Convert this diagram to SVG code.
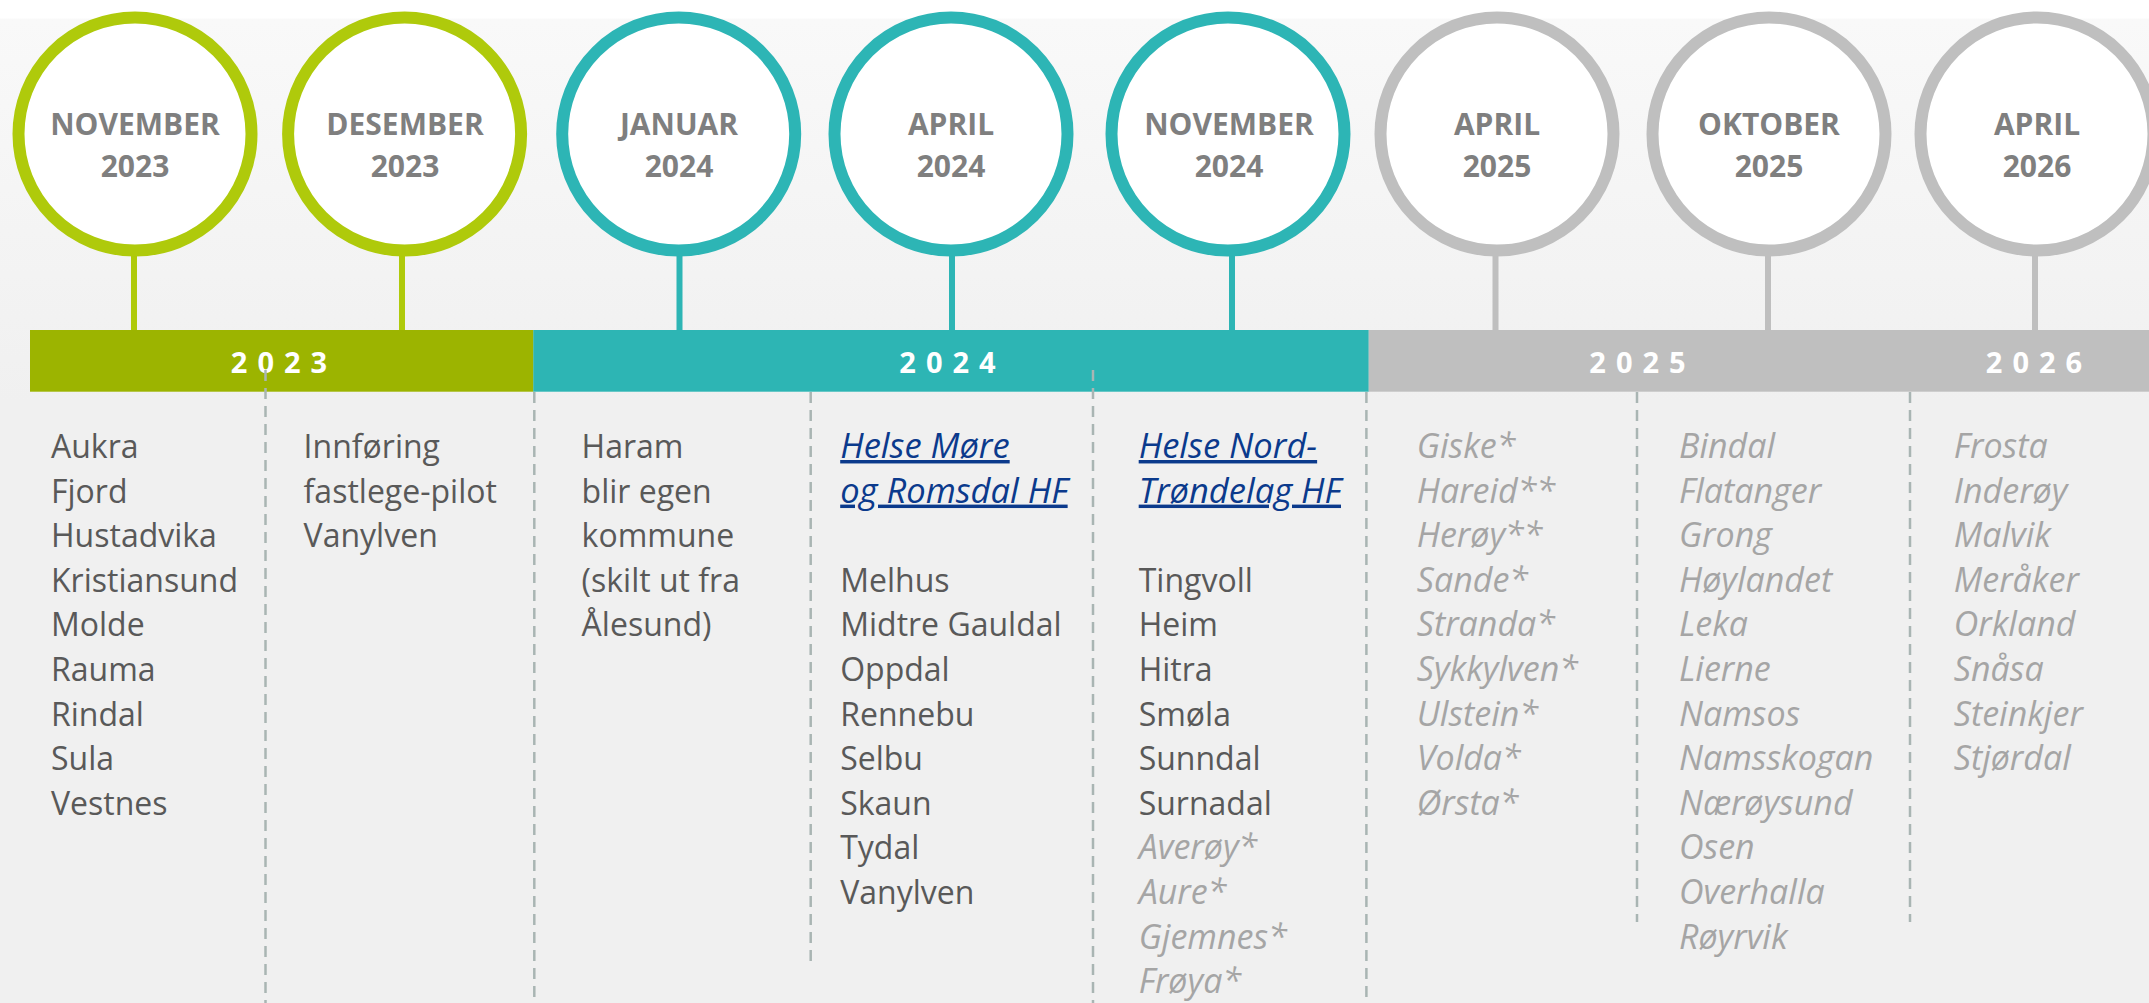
<svg xmlns="http://www.w3.org/2000/svg" width="2149" height="1003" viewBox="0 0 2149 1003">
  <defs>
    <linearGradient id="bg" x1="0" y1="0" x2="0" y2="1003" gradientUnits="userSpaceOnUse">
      <stop offset="0" stop-color="#FFFFFF"/>
      <stop offset="0.018" stop-color="#FFFFFF"/>
      <stop offset="0.019" stop-color="#F9F9F9"/>
      <stop offset="0.4" stop-color="#F0F0F0"/>
      <stop offset="1" stop-color="#F0F0F0"/>
    </linearGradient>
  </defs>
  <style>
    .ring { fill: #FFFFFF; stroke-width: 12; }
    .g23 { stroke: #AFCA0B; }
    .g24 { stroke: #2DB5B5; }
    .g25 { stroke: #BFBFBF; }
    .stem { stroke-width: 6; }
    .mlabel { font-family: "Open Sans", "Liberation Sans", sans-serif; font-weight: 700; font-size: 30px; fill: #7F7F7F; text-anchor: middle; }
    .year { font-family: "Open Sans", "Liberation Sans", sans-serif; font-weight: 700; font-size: 29px; fill: #FFFFFF; text-anchor: middle; letter-spacing: 10px; }
    .dash { stroke: #A9B5B3; stroke-width: 2.5; stroke-dasharray: 11 7; fill: none; }
    .body { font-family: "Open Sans", "Liberation Sans", sans-serif; font-size: 32px; fill: #595959; }
    .ital { font-family: "Open Sans", "Liberation Sans", sans-serif; font-size: 34px; font-style: italic; fill: #A5A5A5; }
    .link { font-family: "Open Sans", "Liberation Sans", sans-serif; font-size: 34.5px; font-style: italic; fill: #0B3A8C; text-decoration: underline; }
  </style>

  <rect x="0" y="0" width="2149" height="1003" fill="url(#bg)"/>

  <!-- connectors: stems from milestones to the timeline bar -->
  <g id="connectors">
    <line class="stem g23" x1="134" y1="250" x2="134" y2="331"/>
    <line class="stem g23" x1="402" y1="250" x2="402" y2="331"/>
    <line class="stem g24" x1="679.5" y1="250" x2="679.5" y2="331"/>
    <line class="stem g24" x1="952" y1="250" x2="952" y2="331"/>
    <line class="stem g24" x1="1232" y1="250" x2="1232" y2="331"/>
    <line class="stem g25" x1="1495.5" y1="250" x2="1495.5" y2="331"/>
    <line class="stem g25" x1="1768" y1="250" x2="1768" y2="331"/>
    <line class="stem g25" x1="2035" y1="250" x2="2035" y2="331"/>
  </g>

  <g id="m-nov-2023">
    <circle class="ring g23" cx="135" cy="134" r="116.5"/>
    <text class="mlabel" x="135" y="135">NOVEMBER</text>
    <text class="mlabel" x="135" y="176.7">2023</text>
  </g>
  <g id="m-des-2023">
    <circle class="ring g23" cx="404.6" cy="134" r="116.5"/>
    <text class="mlabel" x="405" y="135">DESEMBER</text>
    <text class="mlabel" x="405" y="176.7">2023</text>
  </g>
  <g id="m-jan-2024">
    <circle class="ring g24" cx="678.7" cy="134" r="116.5"/>
    <text class="mlabel" x="679" y="135">JANUAR</text>
    <text class="mlabel" x="679" y="176.7">2024</text>
  </g>
  <g id="m-apr-2024">
    <circle class="ring g24" cx="951" cy="134" r="116.5"/>
    <text class="mlabel" x="951" y="135">APRIL</text>
    <text class="mlabel" x="951" y="176.7">2024</text>
  </g>
  <g id="m-nov-2024">
    <circle class="ring g24" cx="1228" cy="134" r="116.5"/>
    <text class="mlabel" x="1229" y="135">NOVEMBER</text>
    <text class="mlabel" x="1229" y="176.7">2024</text>
  </g>
  <g id="m-apr-2025">
    <circle class="ring g25" cx="1497" cy="134" r="116.5"/>
    <text class="mlabel" x="1497" y="135">APRIL</text>
    <text class="mlabel" x="1497" y="176.7">2025</text>
  </g>
  <g id="m-okt-2025">
    <circle class="ring g25" cx="1769" cy="134" r="116.5"/>
    <text class="mlabel" x="1769" y="135">OKTOBER</text>
    <text class="mlabel" x="1769" y="176.7">2025</text>
  </g>
  <g id="m-apr-2026">
    <circle class="ring g25" cx="2037" cy="134" r="116.5"/>
    <text class="mlabel" x="2037" y="135">APRIL</text>
    <text class="mlabel" x="2037" y="176.7">2026</text>
  </g>

  <g id="bar-2023">
    <rect x="30" y="330" width="503.5" height="61.7" fill="#9CB400"/>
    <text class="year" x="284" y="372.7">2023</text>
  </g>
  <g id="bar-2024">
    <rect x="533.3" y="330" width="835.5" height="61.7" fill="#2DB5B4"/>
    <text class="year" x="952.5" y="372.7">2024</text>
  </g>
  <g id="bar-2025-2026">
    <rect x="1368.7" y="330" width="780.3" height="61.7" fill="#BFBFBF"/>
    <text class="year" x="1642.5" y="372.7">2025</text>
    <text class="year" x="2039" y="372.7">2026</text>
  </g>

  <g id="dividers">
    <line class="dash" x1="265.5" y1="370" x2="265.5" y2="1003"/>
    <line class="dash" x1="534.3" y1="392" x2="534.3" y2="1003"/>
    <line class="dash" x1="810.7" y1="392" x2="810.7" y2="965"/>
    <line class="dash" x1="1093" y1="370" x2="1093" y2="1003"/>
    <line class="dash" x1="1366.4" y1="392" x2="1366.4" y2="1003"/>
    <line class="dash" x1="1637" y1="392" x2="1637" y2="922"/>
    <line class="dash" x1="1910" y1="392" x2="1910" y2="922"/>
  </g>

  <g id="col-nov-2023" class="body">
    <text x="51" y="458">Aukra</text>
    <text x="51" y="502.6">Fjord</text>
    <text x="51" y="547.2">Hustadvika</text>
    <text x="51" y="591.8">Kristiansund</text>
    <text x="51" y="636.4">Molde</text>
    <text x="51" y="681">Rauma</text>
    <text x="51" y="725.6">Rindal</text>
    <text x="51" y="770.2">Sula</text>
    <text x="51" y="814.8">Vestnes</text>
  </g>

  <g id="col-des-2023" class="body">
    <text x="303.6" y="458">Innføring</text>
    <text x="303.6" y="502.6">fastlege-pilot</text>
    <text x="303.6" y="547.2">Vanylven</text>
  </g>

  <g id="col-jan-2024" class="body">
    <text x="581.6" y="458">Haram</text>
    <text x="581.6" y="502.6">blir egen</text>
    <text x="581.6" y="547.2">kommune</text>
    <text x="581.6" y="591.8">(skilt ut fra</text>
    <text x="581.6" y="636.4">Ålesund)</text>
  </g>

  <g id="col-apr-2024">
    <text class="link" x="840.2" y="458">Helse Møre</text>
    <text class="link" x="840.2" y="502.6">og Romsdal HF</text>
    <g class="body">
      <text x="840.2" y="591.8">Melhus</text>
      <text x="840.2" y="636.4">Midtre Gauldal</text>
      <text x="840.2" y="681">Oppdal</text>
      <text x="840.2" y="725.6">Rennebu</text>
      <text x="840.2" y="770.2">Selbu</text>
      <text x="840.2" y="814.8">Skaun</text>
      <text x="840.2" y="859.4">Tydal</text>
      <text x="840.2" y="904">Vanylven</text>
    </g>
  </g>

  <g id="col-nov-2024">
    <text class="link" x="1138.7" y="458">Helse Nord-</text>
    <text class="link" x="1138.7" y="502.6">Trøndelag HF</text>
    <g class="body">
      <text x="1138.7" y="591.8">Tingvoll</text>
      <text x="1138.7" y="636.4">Heim</text>
      <text x="1138.7" y="681">Hitra</text>
      <text x="1138.7" y="725.6">Smøla</text>
      <text x="1138.7" y="770.2">Sunndal</text>
      <text x="1138.7" y="814.8">Surnadal</text>
    </g>
    <g class="ital">
      <text x="1138.7" y="859.4">Averøy*</text>
      <text x="1138.7" y="904">Aure*</text>
      <text x="1138.7" y="948.6">Gjemnes*</text>
      <text x="1138.7" y="993.2">Frøya*</text>
    </g>
  </g>

  <g id="col-apr-2025" class="ital">
    <text x="1416.8" y="458">Giske*</text>
    <text x="1416.8" y="502.6">Hareid**</text>
    <text x="1416.8" y="547.2">Herøy**</text>
    <text x="1416.8" y="591.8">Sande*</text>
    <text x="1416.8" y="636.4">Stranda*</text>
    <text x="1416.8" y="681">Sykkylven*</text>
    <text x="1416.8" y="725.6">Ulstein*</text>
    <text x="1416.8" y="770.2">Volda*</text>
    <text x="1416.8" y="814.8">Ørsta*</text>
  </g>

  <g id="col-okt-2025" class="ital">
    <text x="1679" y="458">Bindal</text>
    <text x="1679" y="502.6">Flatanger</text>
    <text x="1679" y="547.2">Grong</text>
    <text x="1679" y="591.8">Høylandet</text>
    <text x="1679" y="636.4">Leka</text>
    <text x="1679" y="681">Lierne</text>
    <text x="1679" y="725.6">Namsos</text>
    <text x="1679" y="770.2">Namsskogan</text>
    <text x="1679" y="814.8">Nærøysund</text>
    <text x="1679" y="859.4">Osen</text>
    <text x="1679" y="904">Overhalla</text>
    <text x="1679" y="948.6">Røyrvik</text>
  </g>

  <g id="col-apr-2026" class="ital">
    <text x="1953.8" y="458">Frosta</text>
    <text x="1953.8" y="502.6">Inderøy</text>
    <text x="1953.8" y="547.2">Malvik</text>
    <text x="1953.8" y="591.8">Meråker</text>
    <text x="1953.8" y="636.4">Orkland</text>
    <text x="1953.8" y="681">Snåsa</text>
    <text x="1953.8" y="725.6">Steinkjer</text>
    <text x="1953.8" y="770.2">Stjørdal</text>
  </g>
</svg>
